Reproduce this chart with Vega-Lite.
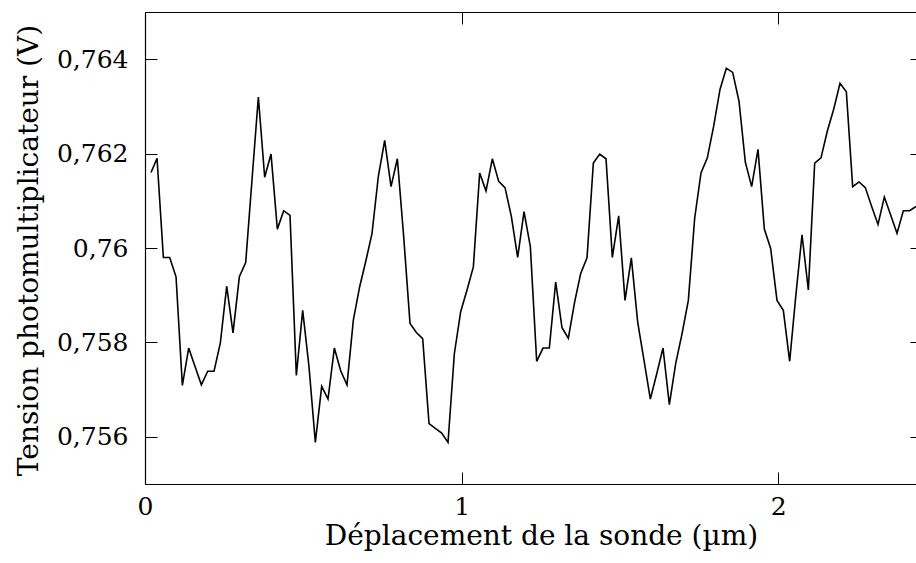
{
  "$schema": "https://vega.github.io/schema/vega-lite/v6.json",
  "width": 771,
  "height": 472,
  "autosize": {"type": "none"},
  "padding": {"left": 145, "top": 12, "right": 0, "bottom": 79},
  "background": "white",
  "config": {
    "view": {"stroke": null},
    "font": "DejaVu Serif",
    "axis": {
      "grid": false,
      "domainColor": "black",
      "tickColor": "black",
      "labelColor": "black",
      "titleColor": "black",
      "labelFont": "DejaVu Serif",
      "titleFont": "DejaVu Serif",
      "labelFontSize": 25,
      "titleFontSize": 28,
      "titleFontWeight": "normal",
      "tickSize": -12,
      "domainWidth": 1.2,
      "tickWidth": 1
    }
  },
  "data": {
    "values": [
      {"x": 0.019, "y": 0.7616}, {"x": 0.038, "y": 0.7619}, {"x": 0.058, "y": 0.7598}, {"x": 0.078, "y": 0.7598},
      {"x": 0.098, "y": 0.75939}, {"x": 0.118, "y": 0.75709}, {"x": 0.138, "y": 0.75788}, {"x": 0.158, "y": 0.75749},
      {"x": 0.178, "y": 0.7571}, {"x": 0.198, "y": 0.75739}, {"x": 0.218, "y": 0.75739}, {"x": 0.238, "y": 0.75799},
      {"x": 0.258, "y": 0.75919}, {"x": 0.278, "y": 0.7582}, {"x": 0.298, "y": 0.75939}, {"x": 0.318, "y": 0.75969},
      {"x": 0.338, "y": 0.76145}, {"x": 0.358, "y": 0.7632}, {"x": 0.378, "y": 0.7615}, {"x": 0.398, "y": 0.76199},
      {"x": 0.418, "y": 0.7604}, {"x": 0.438, "y": 0.76079}, {"x": 0.458, "y": 0.76069}, {"x": 0.478, "y": 0.7573},
      {"x": 0.498, "y": 0.75868}, {"x": 0.518, "y": 0.75748}, {"x": 0.538, "y": 0.75588}, {"x": 0.558, "y": 0.75707},
      {"x": 0.578, "y": 0.7568}, {"x": 0.598, "y": 0.75788}, {"x": 0.618, "y": 0.7574}, {"x": 0.638, "y": 0.7571},
      {"x": 0.658, "y": 0.75847}, {"x": 0.678, "y": 0.75918}, {"x": 0.698, "y": 0.75974}, {"x": 0.717, "y": 0.76031},
      {"x": 0.737, "y": 0.76152}, {"x": 0.757, "y": 0.76228}, {"x": 0.777, "y": 0.7613}, {"x": 0.797, "y": 0.76189},
      {"x": 0.817, "y": 0.76024}, {"x": 0.837, "y": 0.7584}, {"x": 0.857, "y": 0.75821}, {"x": 0.877, "y": 0.75808},
      {"x": 0.897, "y": 0.75628}, {"x": 0.917, "y": 0.75618}, {"x": 0.937, "y": 0.75608}, {"x": 0.957, "y": 0.75588},
      {"x": 0.977, "y": 0.75776}, {"x": 0.997, "y": 0.75865}, {"x": 1.017, "y": 0.75911}, {"x": 1.037, "y": 0.7596},
      {"x": 1.057, "y": 0.76159}, {"x": 1.077, "y": 0.76121}, {"x": 1.097, "y": 0.76189}, {"x": 1.117, "y": 0.76141},
      {"x": 1.137, "y": 0.76128}, {"x": 1.157, "y": 0.76067}, {"x": 1.177, "y": 0.7598}, {"x": 1.197, "y": 0.76077},
      {"x": 1.217, "y": 0.76003}, {"x": 1.237, "y": 0.7576}, {"x": 1.257, "y": 0.75788}, {"x": 1.277, "y": 0.75788},
      {"x": 1.297, "y": 0.75928}, {"x": 1.317, "y": 0.75831}, {"x": 1.337, "y": 0.75809}, {"x": 1.357, "y": 0.75886},
      {"x": 1.376, "y": 0.75946}, {"x": 1.396, "y": 0.75979}, {"x": 1.416, "y": 0.7618}, {"x": 1.436, "y": 0.76199},
      {"x": 1.456, "y": 0.76189}, {"x": 1.476, "y": 0.7598}, {"x": 1.496, "y": 0.76068}, {"x": 1.516, "y": 0.75889},
      {"x": 1.536, "y": 0.75979}, {"x": 1.556, "y": 0.75843}, {"x": 1.576, "y": 0.75762}, {"x": 1.596, "y": 0.7568},
      {"x": 1.616, "y": 0.75733}, {"x": 1.636, "y": 0.75788}, {"x": 1.656, "y": 0.75668}, {"x": 1.676, "y": 0.75755},
      {"x": 1.696, "y": 0.75818}, {"x": 1.716, "y": 0.75889}, {"x": 1.736, "y": 0.76063}, {"x": 1.756, "y": 0.76159},
      {"x": 1.776, "y": 0.76191}, {"x": 1.796, "y": 0.76258}, {"x": 1.816, "y": 0.76336}, {"x": 1.836, "y": 0.76381},
      {"x": 1.856, "y": 0.76372}, {"x": 1.876, "y": 0.76311}, {"x": 1.896, "y": 0.76182}, {"x": 1.916, "y": 0.7613},
      {"x": 1.936, "y": 0.76209}, {"x": 1.956, "y": 0.7604}, {"x": 1.976, "y": 0.75999}, {"x": 1.996, "y": 0.75889},
      {"x": 2.016, "y": 0.75868}, {"x": 2.036, "y": 0.7576}, {"x": 2.055, "y": 0.75896}, {"x": 2.075, "y": 0.76028},
      {"x": 2.095, "y": 0.75911}, {"x": 2.115, "y": 0.7618}, {"x": 2.135, "y": 0.76191}, {"x": 2.155, "y": 0.76248},
      {"x": 2.175, "y": 0.76294}, {"x": 2.195, "y": 0.76349}, {"x": 2.215, "y": 0.76331}, {"x": 2.235, "y": 0.7613},
      {"x": 2.255, "y": 0.7614}, {"x": 2.275, "y": 0.76128}, {"x": 2.295, "y": 0.76088}, {"x": 2.315, "y": 0.7605},
      {"x": 2.335, "y": 0.76108}, {"x": 2.355, "y": 0.7607}, {"x": 2.375, "y": 0.76031}, {"x": 2.395, "y": 0.76079},
      {"x": 2.415, "y": 0.76079}, {"x": 2.435, "y": 0.76088}
    ]
  },
  "layer": [
    {
      "mark": {"type": "line", "color": "black", "strokeWidth": 1.6, "clip": true},
      "encoding": {
        "x": {
          "field": "x", "type": "quantitative",
          "scale": {"domain": [0, 2.435], "nice": false, "zero": false},
          "axis": {"orient": "bottom", "values": [0, 1, 2], "title": "Déplacement de la sonde (µm)", "labelPadding": 22, "labelFlush": false, "labelDx": 3, "titlePadding": 3, "titleX": 396}
        },
        "y": {
          "field": "y", "type": "quantitative",
          "scale": {"domain": [0.755, 0.765], "nice": false, "zero": false},
          "axis": {
            "orient": "left",
            "values": [0.756, 0.758, 0.76, 0.762, 0.764],
            "labelExpr": "replace(format(datum.value, '.3~f'), '.', ',')",
            "title": "Tension photomultiplicateur (V)",
            "labelPadding": 29,
            "titleBaseline": "alphabetic",
            "titleX": -108,
            "titleY": 238
          }
        }
      }
    },
    {
      "mark": {"type": "line", "opacity": 0},
      "encoding": {
        "x": {
          "field": "x", "type": "quantitative",
          "axis": {"orient": "top", "values": [0, 1, 2], "labels": false, "title": null}
        },
        "y": {
          "field": "y", "type": "quantitative",
          "axis": {"orient": "right", "values": [0.756, 0.758, 0.76, 0.762, 0.764], "labels": false, "title": null, "domain": false, "tickSize": -6}
        }
      }
    }
  ],
  "resolve": {"axis": {"x": "independent", "y": "independent"}}
}
